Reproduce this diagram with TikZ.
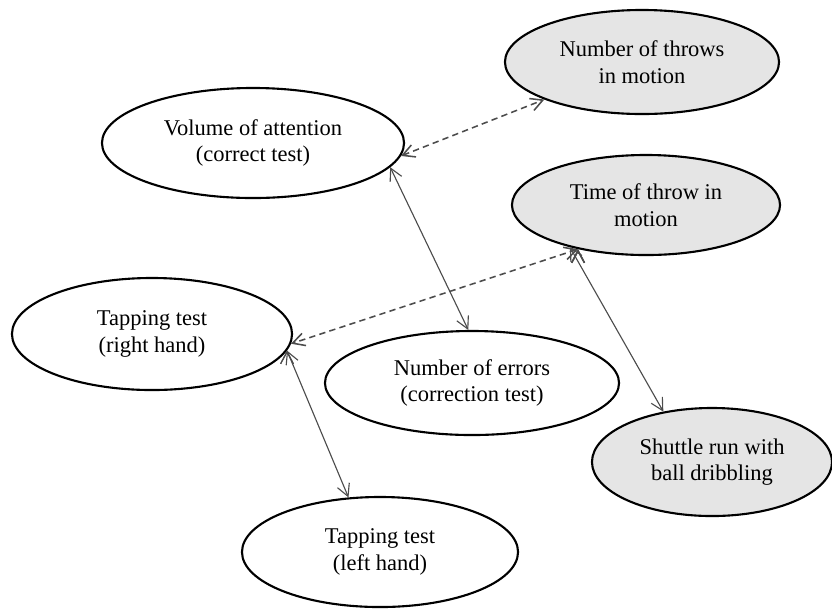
\documentclass[tikz,border=0pt]{standalone}
\usepackage{fontspec}
\setmainfont{Liberation Serif}
\usetikzlibrary{arrows.meta,shapes.geometric}

\begin{document}
\begin{tikzpicture}[x=0.025cm,y=-0.025cm,
    every node/.style={font=\fontsize{16}{19}\selectfont},
    test/.style={ellipse,draw,line width=1.5pt,align=center,inner sep=0pt,fill=white},
    motor/.style={test,fill=black!10},
    link/.style={<->,draw=black!70,line width=0.8pt},
    >={Straight Barb[length=3mm,width=3.2mm]}]
    \useasboundingbox (0,0) rectangle (832,608);
    \node[test,minimum width=7.55cm,minimum height=2.75cm] (vol) at (253,143) {Volume of attention\\(correct test)};
    \node[motor,minimum width=6.85cm,minimum height=2.6cm] (throws) at (642,62) {Number of throws\\in motion};
    \node[motor,minimum width=6.7cm,minimum height=2.5cm] (time) at (646,205) {Time of throw in\\motion};
    \node[test,minimum width=7cm,minimum height=2.8cm] (tapr) at (152,334) {Tapping test\\(right hand)};
    \node[test,minimum width=7.35cm,minimum height=2.6cm] (errors) at (472,383) {Number of errors\\(correction test)};
    \node[motor,minimum width=6cm,minimum height=2.7cm] (shuttle) at (712,462) {Shuttle run with\\ball dribbling};
    \node[test,minimum width=6.9cm,minimum height=2.75cm] (tapl) at (380,552) {Tapping test\\(left hand)};
    \path[link]
    (vol.-10) edge (errors.94)
    (time.209) edge (shuttle.134)
    (tapr.-7) edge (tapl.120);
    \path[link,line width=1.1pt,dash pattern=on 4.5pt off 3pt]
    (vol.-5) edge (throws.201)
    (time.213) edge (tapr.-4);
\end{tikzpicture}
\end{document}
